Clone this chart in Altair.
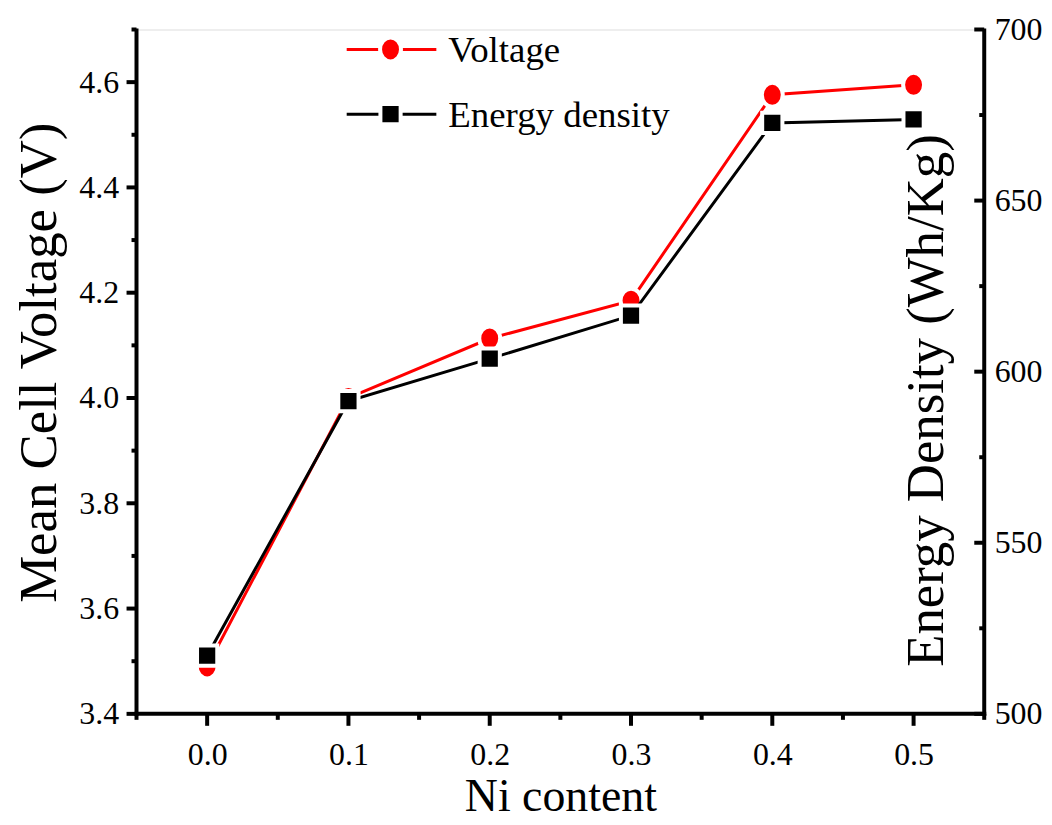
import altair as alt
import pandas as pd

# ---- data ----
ni_content = [0.0, 0.1, 0.2, 0.3, 0.4, 0.5]
voltage = [3.49, 4.00, 4.113, 4.185, 4.576, 4.595]
energy_density = [517.0, 591.4, 603.8, 616.4, 672.7, 673.7]
series_names = ["Voltage", "Energy density"]

x_major = [0.0, 0.1, 0.2, 0.3, 0.4, 0.5]
x_minor = [-0.05, 0.05, 0.15, 0.25, 0.35, 0.45, 0.55]
v_major = [3.4, 3.6, 3.8, 4.0, 4.2, 4.4, 4.6]
v_minor = [3.5, 3.7, 3.9, 4.1, 4.3, 4.5, 4.7]
e_major = [500, 550, 600, 650, 700]
e_minor = [525, 575, 625, 675]

df = pd.DataFrame({"x": ni_content, "v": voltage, "e": energy_density})

W, H = 851, 687
FONT = "Liberation Serif"
LW = 4
ELLIPSE = "M-0.875,0 A0.875,1 0 1,0 0.875,0 A0.875,1 0 1,0 -0.875,0 Z"

xs = alt.Scale(domain=[-0.05, 0.55], nice=False, zero=False)
vs = alt.Scale(domain=[3.4, 4.7], nice=False, zero=False)
es = alt.Scale(domain=[500, 700], nice=False, zero=False)

base = alt.Chart(df)

x_axis = alt.Axis(orient="bottom", values=x_major, format=".1f", ticks=False, tickSize=0,
                  domain=False, labelFontSize=32, labelPadding=26, labelFont=FONT,
                  title="Ni content", titleFont=FONT, titleFontSize=46, titleFontWeight="normal",
                  titleBaseline="alphabetic", titleY=97, grid=False)
v_axis = alt.Axis(orient="left", values=v_major, format=".1f", ticks=False, tickSize=0,
                  domain=False, labelFontSize=32, labelPadding=18, labelFont=FONT,
                  title="Mean Cell Voltage (V)", titleFont=FONT, titleFontSize=53,
                  titleFontWeight="normal", titleAngle=270, titleAlign="center",
                  titleBaseline="middle", titleX=-97, titleY=334, grid=False)
e_axis = alt.Axis(orient="right", values=e_major, format="d", ticks=False, tickSize=0,
                  domain=False, labelFontSize=32, labelPadding=10, labelFont=FONT,
                  title="Energy Density (Wh/Kg)", titleFont=FONT, titleFontSize=53,
                  titleFontWeight="normal", titleAngle=270, titleAlign="center",
                  titleBaseline="middle", titleX=-58, titleY=372, grid=False)

v_line = base.mark_line(color="red", strokeWidth=3).encode(
    x=alt.X("x:Q", scale=xs, axis=x_axis),
    y=alt.Y("v:Q", scale=vs, axis=v_axis),
)
v_pts = base.mark_point(shape=ELLIPSE, filled=True, fill="red", stroke="white",
                        strokeWidth=4, size=576, opacity=1).encode(
    x=alt.X("x:Q", scale=xs, axis=None),
    y=alt.Y("v:Q", scale=vs, axis=None),
)
e_line = base.mark_line(color="black", strokeWidth=3).encode(
    x=alt.X("x:Q", scale=xs, axis=None),
    y=alt.Y("e:Q", scale=es, axis=e_axis),
)
e_pts = base.mark_point(shape="square", filled=True, fill="black", stroke="white",
                        strokeWidth=4, size=412, opacity=1).encode(
    x=alt.X("x:Q", scale=xs, axis=None),
    y=alt.Y("e:Q", scale=es, axis=None),
)

# ---- axis lines (filled rects) and ticks (tick marks) ----
one_row = pd.DataFrame({"k": [0]})
frame = [
    alt.Chart(one_row).mark_rect(color="black", opacity=1).encode(
        x=alt.value(-2), x2=alt.value(W + 2), y=alt.value(H - 2), y2=alt.value(H + 2)),
    alt.Chart(one_row).mark_rect(color="black", opacity=1).encode(
        x=alt.value(-2), x2=alt.value(2), y=alt.value(-1), y2=alt.value(H + 2)),
    alt.Chart(one_row).mark_rect(color="black", opacity=1).encode(
        x=alt.value(W - 2), x2=alt.value(W + 2), y=alt.value(-1), y2=alt.value(H + 2)),
]

def x_ticks(vals, length):
    return alt.Chart(pd.DataFrame({"t": vals})).mark_tick(
        orient="vertical", color="black", thickness=LW, size=length, opacity=1).encode(
        x=alt.X("t:Q", scale=xs, axis=None), y=alt.value(H + length / 2))

def v_ticks(vals, length):
    return alt.Chart(pd.DataFrame({"t": vals})).mark_tick(
        orient="horizontal", color="black", thickness=LW, size=length, opacity=1).encode(
        y=alt.Y("t:Q", scale=vs, axis=None), x=alt.value(-length / 2))

def e_ticks(vals, length):
    return alt.Chart(pd.DataFrame({"t": vals})).mark_tick(
        orient="horizontal", color="black", thickness=LW, size=length, opacity=1).encode(
        y=alt.Y("t:Q", scale=es, axis=None), x=alt.value(W - length / 2))

ticks = [x_ticks(x_major, 12), x_ticks(x_minor, 6),
         v_ticks(v_major, 10), v_ticks(v_minor, 5),
         e_ticks(e_major, 10), e_ticks(e_minor, 5)]

# ---- legend (layout only) ----
leg_df = pd.DataFrame({"name": series_names})
leg_layers = []
leg_specs = [
    (series_names[0], "red", ELLIPSE, 576, 20),
    (series_names[1], "black", "square", 412, 85),
]
for name, col, shp, sz, yy in leg_specs:
    one = alt.Chart(leg_df).transform_filter(alt.datum.name == name)
    leg_layers.append(one.mark_rule(color=col, strokeWidth=3).encode(
        x=alt.value(211), x2=alt.value(301), y=alt.value(yy)))
    leg_layers.append(one.mark_point(shape=shp, filled=True, fill=col, stroke="white",
                                     strokeWidth=4, size=sz, opacity=1).encode(
        x=alt.value(255), y=alt.value(yy)))
    leg_layers.append(one.mark_text(align="left", baseline="middle", font=FONT, fontSize=37,
                                    color="black").encode(
        x=alt.value(313), y=alt.value(yy + 2), text="name:N"))

chart = alt.layer(
    v_line, v_pts, e_line, e_pts, *frame, *ticks, *leg_layers
).resolve_scale(x="independent", y="independent").properties(
    width=W, height=H,
    autosize=alt.AutoSizeParams(type="none"),
    padding={"left": 129, "top": 20, "right": 60, "bottom": 110},
).configure_view(stroke=None, fill=None).configure_axis(
    labelColor="black", titleColor="black"
).configure(background="white")

chart.save("out.html", embed_options={"renderer": "svg", "actions": False})
